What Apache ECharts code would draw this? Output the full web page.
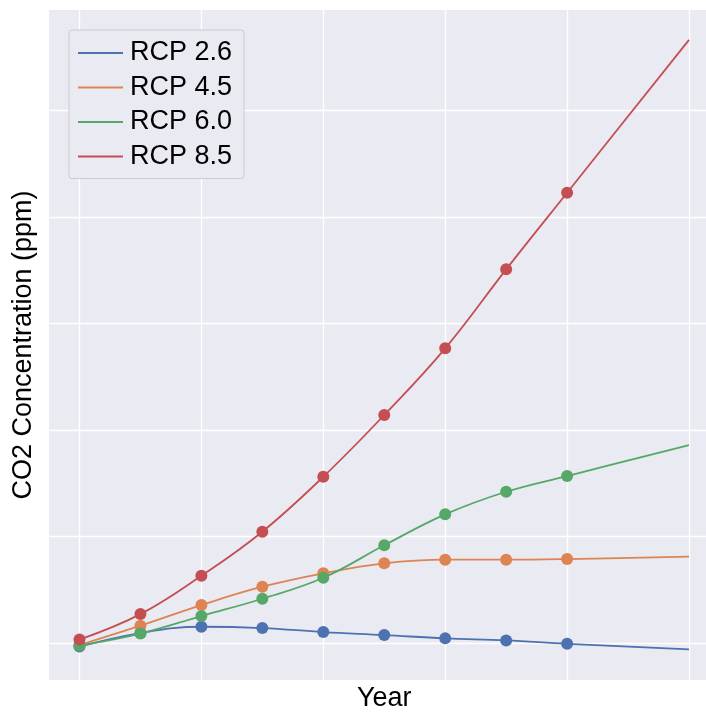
<!DOCTYPE html>
<html>
<head>
<meta charset="utf-8">
<script src="https://cdn.jsdelivr.net/npm/echarts@6/dist/echarts.min.js"></script>
<style>
  html, body { margin: 0; padding: 0; background: #ffffff; }
  #chart { width: 706px; height: 713px; }
</style>
</head>
<body>
<div id="chart"></div>
<script>
// Years sampled (markers through 2080, curve continues to 2100)
const years = [2000, 2010, 2020, 2030, 2040, 2050, 2060, 2070, 2080, 2100];
const markedCount = 9;

// CO2 concentration (ppm) per scenario
const rcp26 = [396.7, 409.4, 415.3, 414.1, 410.3, 407.5, 404.4, 402.5, 399.3, 394.1];
const rcp45 = [398.1, 416.3, 435.7, 452.9, 465.5, 474.9, 478.3, 478.3, 478.9, 481.1];
const rcp60 = [397.7, 408.9, 425.4, 441.6, 461.3, 491.8, 520.9, 542.1, 556.9, 586.0];
const rcp85 = [403.3, 427.2, 463.2, 504.6, 556.2, 614.2, 676.8, 751.0, 823.0, 966.5];

const seriesNames = ['RCP 2.6', 'RCP 4.5', 'RCP 6.0', 'RCP 8.5'];
const seriesValues = [rcp26, rcp45, rcp60, rcp85];
const palette = ['#4c72b0', '#dd8452', '#55a868', '#c44e52'];

// Grid line positions
const yGrid = [400, 500, 600, 700, 800, 900];
const xGrid = [2000, 2020, 2040, 2060, 2080, 2100];

const FONT = "'Liberation Sans', Arial, Helvetica, sans-serif";

function buildData(vals) {
  return years.map((y, i) => {
    const item = { value: [y, vals[i]] };
    if (i >= markedCount) item.symbol = 'none';
    return item;
  });
}

const series = seriesNames.map((name, k) => ({
  name: name,
  type: 'line',
  z: 2 + k,
  smooth: 0.4,
  symbol: 'circle',
  symbolSize: 12,
  showAllSymbol: true,
  color: palette[k],
  lineStyle: { width: 1.8, color: palette[k] },
  itemStyle: { color: palette[k] },
  emphasis: { disabled: true },
  data: buildData(seriesValues[k])
}));

// White grid lines drawn beneath the data
series.unshift({
  name: '__grid',
  type: 'line',
  z: 1,
  data: [],
  silent: true,
  markLine: {
    z: 1,
    silent: true,
    symbol: ['none', 'none'],
    animation: false,
    label: { show: false },
    lineStyle: { color: '#ffffff', width: 1.3, type: 'solid' },
    emphasis: { disabled: true },
    data: yGrid.map(v => ({ yAxis: v })).concat(xGrid.map(v => ({ xAxis: v })))
  }
});

const chart = echarts.init(document.getElementById('chart'), null, { renderer: 'canvas' });
chart.setOption({
  animation: false,
  backgroundColor: '#ffffff',
  textStyle: { fontFamily: FONT },
  grid: {
    left: 49, top: 10, width: 670.5, height: 670,
    show: true, backgroundColor: '#eaeaf2', borderWidth: 0,
    containLabel: false,
    outerBoundsMode: 'none'
  },
  xAxis: {
    type: 'value',
    min: 1995, max: 2105,
    name: 'Year',
    nameLocation: 'middle',
    nameGap: 5,
    nameTextStyle: { fontSize: 27, color: '#000000', fontFamily: FONT, verticalAlign: 'top' },
    axisLine: { show: false },
    axisTick: { show: false },
    axisLabel: { show: false },
    splitLine: { show: false }
  },
  yAxis: {
    type: 'value',
    min: 365.3, max: 994.6,
    name: 'CO2 Concentration (ppm)',
    nameLocation: 'middle',
    nameRotate: 90,
    nameGap: 12,
    nameTextStyle: { fontSize: 27, color: '#000000', fontFamily: FONT },
    axisLine: { show: false },
    axisTick: { show: false },
    axisLabel: { show: false },
    splitLine: { show: false }
  },
  legend: {
    data: seriesNames,
    z: 20,
    orient: 'vertical',
    left: 69,
    top: 30,
    padding: [9, 12, 8, 9],
    itemGap: 6.5,
    itemWidth: 45,
    itemHeight: 2,
    icon: 'rect',
    backgroundColor: '#eaeaf2',
    borderColor: '#cccccc',
    borderWidth: 1,
    borderRadius: 3,
    selectedMode: false,
    textStyle: { fontSize: 27, color: '#000000', fontFamily: FONT, lineHeight: 28, padding: [0, 0, 0, 2] }
  },
  series: series
});
</script>
</body>
</html>
